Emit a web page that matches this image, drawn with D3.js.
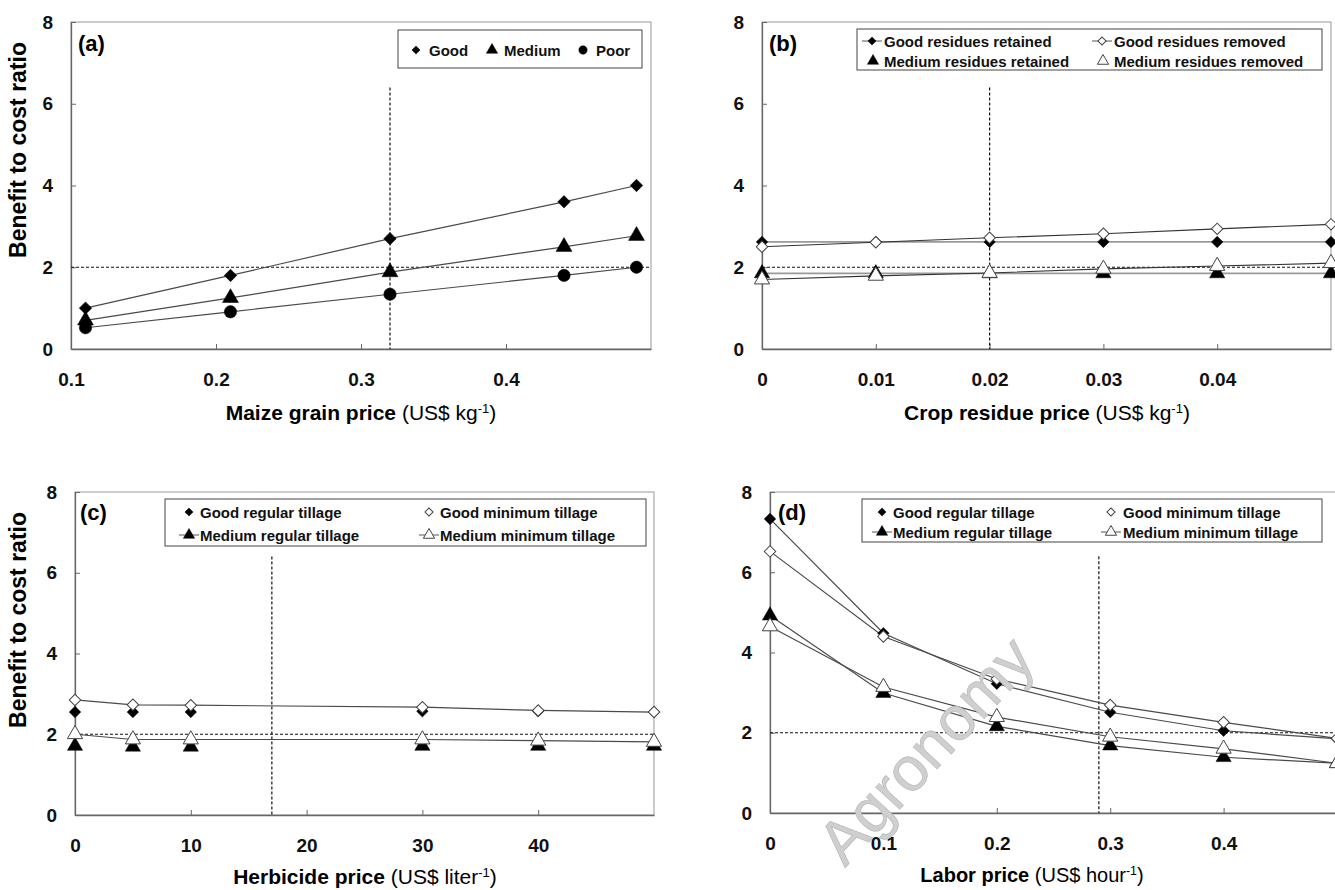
<!DOCTYPE html>
<html>
<head>
<meta charset="utf-8">
<script src="https://cdn.jsdelivr.net/npm/d3@7"></script>
<style>
  body { margin: 0; background: #fff; }
  text { font-family: Arial, "Liberation Sans", sans-serif; }
</style>
</head>
<body>
<script>
// ---- data ----
var grainPrice   = [0.11, 0.21, 0.32, 0.44, 0.49];
var grainGood    = [1.0, 1.8, 2.7, 3.6, 4.0];
var grainMedium  = [0.7, 1.25, 1.88, 2.5, 2.77];
var grainPoor    = [0.52, 0.91, 1.34, 1.8, 2.0];

var residuePrice   = [0, 0.01, 0.02, 0.03, 0.04, 0.05];
var goodRetained   = [2.62, 2.62, 2.62, 2.62, 2.62, 2.62];
var goodRemoved    = [2.5, 2.61, 2.72, 2.82, 2.94, 3.05];
var mediumRetained = [1.85, 1.85, 1.85, 1.85, 1.85, 1.85];
var mediumRemoved  = [1.7, 1.79, 1.86, 1.96, 2.03, 2.1];

var herbicidePrice     = [0, 5, 10, 30, 40, 50];
var herbGoodRegular    = [2.55, 2.55, 2.55, 2.57, 2.57, 2.55];
var herbGoodMinimum    = [2.85, 2.73, 2.72, 2.67, 2.59, 2.55];
var herbMediumRegular  = [1.71, 1.69, 1.69, 1.71, 1.71, 1.71];
var herbMediumMinimum  = [2.0, 1.87, 1.87, 1.87, 1.84, 1.81];

var laborPrice          = [0, 0.1, 0.2, 0.3, 0.4, 0.5];
var laborGoodRegular    = [7.33, 4.48, 3.22, 2.51, 2.05, 1.85];
var laborGoodMinimum    = [6.52, 4.40, 3.34, 2.69, 2.26, 1.86];
var laborMediumRegular  = [4.92, 2.99, 2.16, 1.68, 1.39, 1.24];
var laborMediumMinimum  = [4.65, 3.14, 2.39, 1.9, 1.6, 1.24];

var yTicks = [0, 2, 4, 6, 8];
var threshold = 2;      // horizontal dashed line
var vlineTop = 6.4;     // top of the vertical dashed lines

var svg = d3.select("body").append("svg")
  .attr("width", 1335)
  .attr("height", 890);

function drawMarker(g, kind, filled, size, cx, cy) {
  var sym, rot = 0;
  if (kind == "diamond") { sym = d3.symbolSquare; rot = 45; size = size * 0.6; }
  else if (kind == "triangle") sym = d3.symbolTriangle;
  else sym = d3.symbolCircle;
  g.append("path")
    .attr("d", d3.symbol().type(sym).size(size)())
    .attr("transform", "translate(" + cx + "," + cy + ") rotate(" + rot + ")")
    .attr("fill", filled ? "#000" : "#fff")
    .attr("stroke", filled ? "#000" : "#444")
    .attr("stroke-width", filled ? 0.5 : 1);
}

function drawPanel(p) {
  var b = p.box;
  var x = d3.scaleLinear().domain(p.xDomain).range([b.x0, b.x1]);
  var y = d3.scaleLinear().domain([0, 8]).range([b.y1, b.y0]);
  var g = svg.append("g");

  // plot border
  g.append("rect")
    .attr("x", b.x0).attr("y", b.y0)
    .attr("width", b.x1 - b.x0).attr("height", b.y1 - b.y0)
    .attr("fill", "none").attr("stroke", "#999").attr("stroke-width", 1);

  // axes
  var xa = g.append("g")
    .attr("transform", "translate(0," + b.y1 + ")")
    .call(d3.axisBottom(x).tickValues(p.xTicks).tickFormat(p.fmt)
      .tickSize(-5).tickSizeOuter(0).tickPadding(24));
  var ya = g.append("g")
    .attr("transform", "translate(" + b.x0 + ",0)")
    .call(d3.axisLeft(y).tickValues(yTicks).tickFormat(d3.format("d"))
      .tickSize(-5).tickSizeOuter(0).tickPadding(18));
  [xa, ya].forEach(function(a){
    a.select(".domain").attr("stroke", "#666").attr("stroke-width", 1.3);
    a.selectAll(".tick line").attr("stroke", "#666");
    a.selectAll("text").attr("font-size", 19).attr("font-weight", "bold")
      .attr("font-family", "Arial, 'Liberation Sans', sans-serif").attr("fill", "#111");
  });

  // dashed reference lines
  g.append("line")
    .attr("x1", b.x0).attr("x2", b.x1)
    .attr("y1", y(threshold)).attr("y2", y(threshold))
    .attr("stroke", "#111").attr("stroke-width", 1.2).attr("stroke-dasharray", "3,2");
  g.append("line")
    .attr("x1", x(p.vline)).attr("x2", x(p.vline))
    .attr("y1", y(vlineTop)).attr("y2", y(0))
    .attr("stroke", "#111").attr("stroke-width", 1.2).attr("stroke-dasharray", "3,2");

  // series lines
  p.series.forEach(function(s){
    if (!s.line) return;
    var pts = s.x.map(function(v, i){ return [v, s.y[i]]; });
    g.append("path")
      .datum(pts)
      .attr("fill", "none")
      .attr("stroke", s.line.stroke)
      .attr("stroke-width", s.line.width)
      .attr("d", d3.line().x(function(d){ return x(d[0]); }).y(function(d){ return y(d[1]); }));
  });
  // markers
  p.series.forEach(function(s){
    s.x.forEach(function(v, i){
      drawMarker(g, s.kind, s.filled, s.size, x(v), y(s.y[i]));
    });
  });

  // panel label
  g.append("text")
    .attr("x", p.label.x).attr("y", p.label.y)
    .attr("font-size", 22).attr("font-weight", "bold").text(p.label.t);

  // legend
  var L = p.legend;
  g.append("rect")
    .attr("x", L.box[0]).attr("y", L.box[1]).attr("width", L.box[2]).attr("height", L.box[3])
    .attr("fill", "#fff").attr("stroke", "#444").attr("stroke-width", 1);
  L.items.forEach(function(it){
    var s = p.series[it.s];
    if (it.line) {
      g.append("line")
        .attr("x1", it.mx - 10).attr("x2", it.mx + 10)
        .attr("y1", it.y).attr("y2", it.y)
        .attr("stroke", "#555").attr("stroke-width", 1);
    }
    drawMarker(g, s.kind, s.filled, L.msize, it.mx, it.y);
    g.append("text")
      .attr("x", it.tx).attr("y", it.y + 5.5)
      .attr("font-size", L.fs).attr("font-weight", "bold").attr("fill", "#111")
      .text(s.name);
  });

  // x axis title
  var t = g.append("text")
    .attr("x", p.xTitle.x).attr("y", p.xTitle.y)
    .attr("text-anchor", "middle")
    .attr("font-size", p.xTitle.fs);
  t.append("tspan").attr("font-weight", "bold").text(p.xTitle.main + " ");
  t.append("tspan").text(p.xTitle.unit);
  t.append("tspan").attr("font-size", p.xTitle.fs * 0.62).attr("baseline-shift", "super").text("-1");
  t.append("tspan").text(")");

  // y axis title
  if (p.yTitle) {
    g.append("text")
      .attr("transform", "translate(" + p.yTitle.x + "," + p.yTitle.y + ") rotate(-90)")
      .attr("text-anchor", "middle")
      .attr("font-size", 23).attr("font-weight", "bold")
      .text("Benefit to cost ratio");
  }
}

var thinLine = { stroke: "#4a4a4a", width: 1.2 };

drawPanel({
  box: { x0: 71, x1: 651, y0: 22, y1: 349 },
  xDomain: [0.1, 0.5], xTicks: [0.1, 0.2, 0.3, 0.4], fmt: d3.format(".1f"),
  vline: 0.32,
  series: [
    { name: "Good",   x: grainPrice, y: grainGood,   kind: "diamond",  filled: true, size: 130, line: thinLine },
    { name: "Medium", x: grainPrice, y: grainMedium, kind: "triangle", filled: true, size: 110, line: thinLine },
    { name: "Poor",   x: grainPrice, y: grainPoor,   kind: "circle",   filled: true, size: 120, line: thinLine }
  ],
  label: { x: 78, y: 51, t: "(a)" },
  legend: { box: [398, 30, 244, 38], fs: 15, msize: 55, items: [
    { s: 0, mx: 416, tx: 429, y: 50 },
    { s: 1, mx: 492, tx: 504, y: 50 },
    { s: 2, mx: 583, tx: 596, y: 50 }
  ]},
  xTitle: { x: 361, y: 420, fs: 21, main: "Maize grain price", unit: "(US$ kg" },
  yTitle: { x: 26, y: 150 }
});

drawPanel({
  box: { x0: 762, x1: 1331, y0: 22, y1: 349 },
  xDomain: [0, 0.05], xTicks: [0, 0.01, 0.02, 0.03, 0.04], fmt: function(d){ return d === 0 ? "0" : d3.format(".2f")(d); },
  vline: 0.02,
  series: [
    { name: "Good residues retained",   x: residuePrice, y: goodRetained,   kind: "diamond",  filled: true,  size: 110, line: { stroke: "#999", width: 1.8 } },
    { name: "Good residues removed",    x: residuePrice, y: goodRemoved,    kind: "diamond",  filled: false, size: 110, line: { stroke: "#333", width: 1.1 } },
    { name: "Medium residues retained", x: residuePrice, y: mediumRetained, kind: "triangle", filled: true,  size: 100, line: { stroke: "#999", width: 1.8 } },
    { name: "Medium residues removed",  x: residuePrice, y: mediumRemoved,  kind: "triangle", filled: false, size: 100, line: { stroke: "#333", width: 1.1 } }
  ],
  label: { x: 769, y: 51, t: "(b)" },
  legend: { box: [857, 29, 465, 41], fs: 15, msize: 55, items: [
    { s: 0, mx: 872, tx: 884, y: 41, line: true },
    { s: 1, mx: 1102, tx: 1114, y: 41, line: true },
    { s: 2, mx: 873, tx: 884, y: 61 },
    { s: 3, mx: 1103, tx: 1114, y: 61 }
  ]},
  xTitle: { x: 1047, y: 420, fs: 21, main: "Crop residue price", unit: "(US$ kg" }
});

drawPanel({
  box: { x0: 75, x1: 654, y0: 492, y1: 815 },
  xDomain: [0, 50], xTicks: [0, 10, 20, 30, 40], fmt: d3.format("d"),
  vline: 17,
  series: [
    { name: "Good regular tillage",    x: herbicidePrice, y: herbGoodRegular,   kind: "diamond",  filled: true,  size: 110, line: null },
    { name: "Good minimum tillage",    x: herbicidePrice, y: herbGoodMinimum,   kind: "diamond",  filled: false, size: 110, line: thinLine },
    { name: "Medium regular tillage",  x: herbicidePrice, y: herbMediumRegular, kind: "triangle", filled: true,  size: 100, line: null },
    { name: "Medium minimum tillage",  x: herbicidePrice, y: herbMediumMinimum, kind: "triangle", filled: false, size: 100, line: thinLine }
  ],
  label: { x: 80, y: 520, t: "(c)" },
  legend: { box: [165, 499, 481, 47], fs: 15, msize: 55, items: [
    { s: 0, mx: 189, tx: 200, y: 512 },
    { s: 1, mx: 429, tx: 440, y: 512 },
    { s: 2, mx: 189, tx: 200, y: 535, line: true },
    { s: 3, mx: 429, tx: 440, y: 535, line: true }
  ]},
  xTitle: { x: 365, y: 884, fs: 21, main: "Herbicide price", unit: "(US$ liter" },
  yTitle: { x: 26, y: 620 }
});

drawPanel({
  box: { x0: 770, x1: 1337, y0: 492, y1: 813 },
  xDomain: [0, 0.5], xTicks: [0, 0.1, 0.2, 0.3, 0.4], fmt: function(d){ return d === 0 ? "0" : d3.format(".1f")(d); },
  vline: 0.29,
  series: [
    { name: "Good regular tillage",    x: laborPrice, y: laborGoodRegular,   kind: "diamond",  filled: true,  size: 110, line: thinLine },
    { name: "Good minimum tillage",    x: laborPrice, y: laborGoodMinimum,   kind: "diamond",  filled: false, size: 110, line: thinLine },
    { name: "Medium regular tillage",  x: laborPrice, y: laborMediumRegular, kind: "triangle", filled: true,  size: 100, line: thinLine },
    { name: "Medium minimum tillage",  x: laborPrice, y: laborMediumMinimum, kind: "triangle", filled: false, size: 100, line: thinLine }
  ],
  label: { x: 778, y: 520, t: "(d)" },
  legend: { box: [862, 499, 460, 43], fs: 15, msize: 55, items: [
    { s: 0, mx: 882, tx: 893, y: 512 },
    { s: 1, mx: 1111, tx: 1123, y: 512 },
    { s: 2, mx: 882, tx: 893, y: 532, line: true },
    { s: 3, mx: 1111, tx: 1123, y: 532, line: true }
  ]},
  xTitle: { x: 1032, y: 882, fs: 20, main: "Labor price", unit: "(US$ hour" }
});

// watermark
svg.append("text")
  .attr("transform", "translate(845,868) rotate(-47)")
  .attr("font-size", 62)
  .attr("fill", "#cfcfcf")
  .attr("stroke", "#b5b5b5")
  .attr("stroke-width", 0.6)
  .text("Agronomy");
</script>
</body>
</html>
